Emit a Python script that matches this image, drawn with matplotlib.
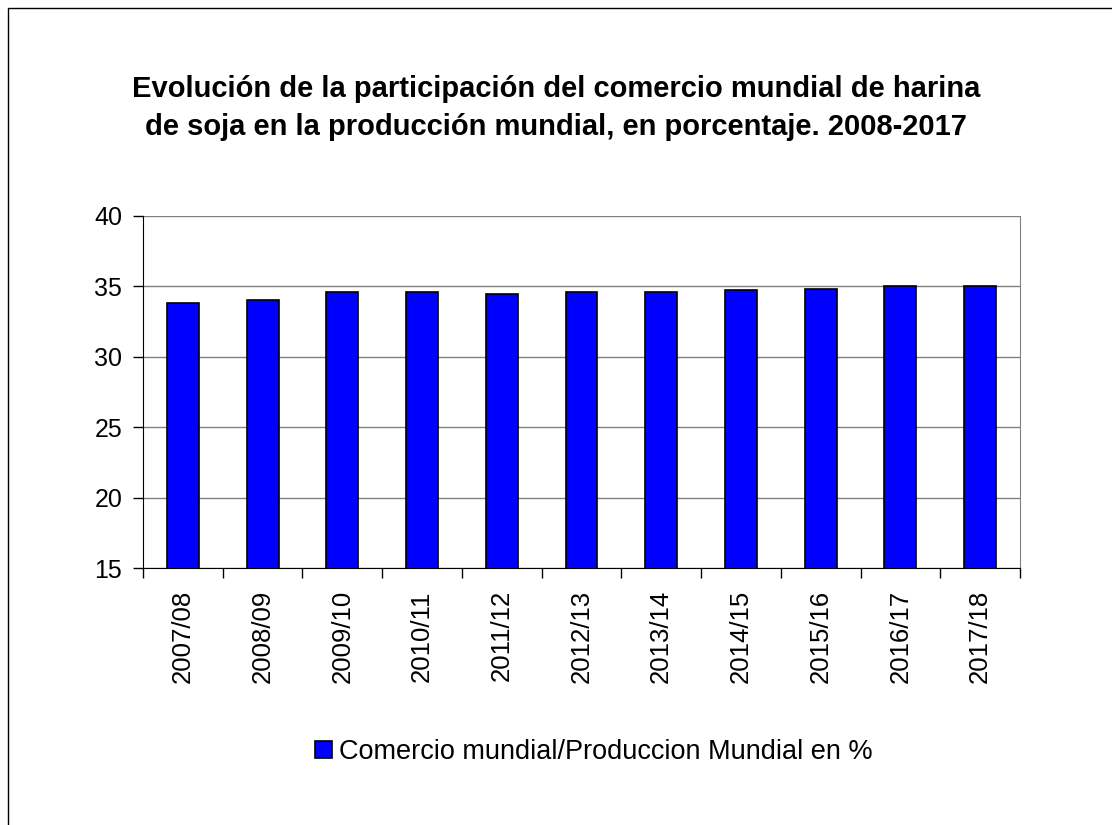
import numpy as np
import matplotlib.pyplot as plt
from matplotlib.patches import Rectangle

plt.rcParams['font.family'] = ['Liberation Sans', 'DejaVu Sans']

campanas = ['2007/08', '2008/09', '2009/10', '2010/11', '2011/12', '2012/13',
            '2013/14', '2014/15', '2015/16', '2016/17', '2017/18']
participacion = [33.8, 34.05, 34.6, 34.6, 34.45, 34.6, 34.6, 34.75, 34.85, 35.0, 35.0]
serie = 'Comercio mundial/Produccion Mundial en %'
titulo = ('Evolución de la participación del comercio mundial de harina\n'
          'de soja en la producción mundial, en porcentaje. 2008-2017')

W, H = 1112, 825
fig = plt.figure(figsize=(W / 100, H / 100), dpi=100)
ax = fig.add_axes([143 / W, 1 - 568 / H, (1020 - 143) / W, (568 - 216) / H])

x = np.arange(len(campanas))
ax.bar(x, participacion, width=0.4, color='#0000ff',
       edgecolor='black', linewidth=1.2, label=serie, zorder=3)

ax.set_ylim(15, 40)
ax.set_yticks(range(15, 41, 5))
ax.set_xlim(-0.5, len(campanas) - 0.5)
ax.yaxis.grid(True, color='#808080', linewidth=1)
ax.set_axisbelow(True)

ax.set_xticks(x)
ax.set_xticklabels(campanas, rotation=90, fontsize=18.5)
ax.tick_params(axis='x', length=0, pad=16)
ax.set_xticks(np.arange(-0.5, len(campanas)), minor=True)
ax.tick_params(axis='x', which='minor', length=7, direction='out', width=1)
ax.tick_params(axis='y', labelsize=18, length=7, direction='out', width=1, pad=8)

ax.spines['left'].set_color('black')
ax.spines['bottom'].set_color('black')
ax.spines['top'].set_visible(False)
ax.spines['right'].set_color('#808080')

fig.text(0.5, 1 - 108 / H, titulo, ha='center', va='center', fontsize=21,
         fontweight='bold', linespacing=1.45)

fig.legend(loc='center', bbox_to_anchor=(594 / W, 1 - 752 / H), frameon=False,
           fontsize=19.5, handlelength=0.62, handleheight=0.62, handletextpad=0.25)

# marco exterior (se corta a la derecha y abajo, como en el original)
fig.patches.append(Rectangle((8 / W, -0.1), 1.1, 1.1 - 8 / H,
                             transform=fig.transFigure, fill=False,
                             edgecolor='black', linewidth=1))

fig.savefig('out.png', dpi=100)
